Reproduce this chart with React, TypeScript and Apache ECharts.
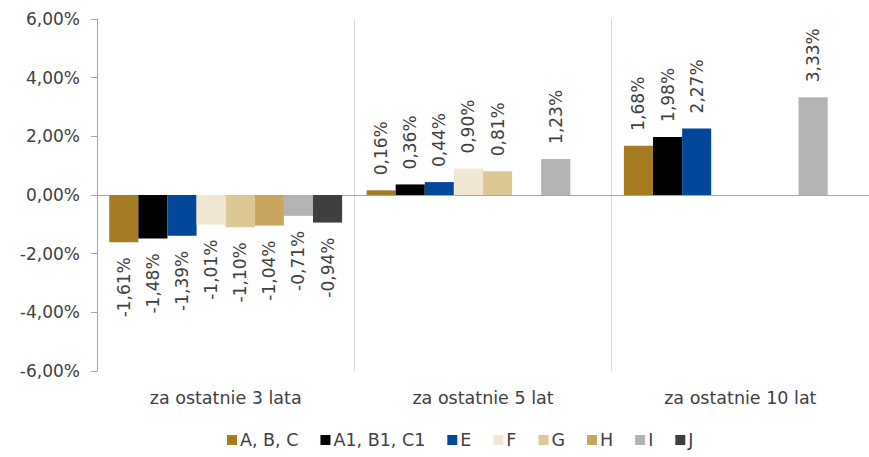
import React, { useEffect, useRef } from "react";
import * as echarts from "echarts";

const categories = ["za ostatnie 3 lata", "za ostatnie 5 lat", "za ostatnie 10 lat"];
const seriesNames = ["A, B, C", "A1, B1, C1", "E", "F", "G", "H", "I", "J"];
const valuesABC = [-1.61, 0.16, 1.68];
const valuesA1 = [-1.48, 0.36, 1.98];
const valuesE = [-1.39, 0.44, 2.27];
const valuesF = [-1.01, 0.9, null];
const valuesG = [-1.1, 0.81, null];
const valuesH = [-1.04, null, null];
const valuesI = [-0.71, 1.23, 3.33];
const valuesJ = [-0.94, null, null];
const yTicks = { min: -6, max: 6, interval: 2 };

const seriesValues = [valuesABC, valuesA1, valuesE, valuesF, valuesG, valuesH, valuesI, valuesJ];
const colors = ["#A67C22", "#000000", "#00479A", "#F1E6D1", "#DCC795", "#C8A45E", "#B3B3B3", "#3F3F3F"];

const FONT = "DejaVu Sans";
const TEXT = "#404040";
const fmt = (v: number) => v.toFixed(2).replace(".", ",") + "%";

export default function App() {
  const ref = useRef<HTMLDivElement>(null);
  useEffect(() => {
    if (!ref.current) return;
    const chart = echarts.init(ref.current, undefined, { renderer: "svg" });
    chart.setOption({
      animation: false,
      textStyle: { fontFamily: FONT },
      grid: { left: 97, right: 0, top: 19, bottom: 86 },
      legend: {
        bottom: 3,
        left: 222,
        icon: "rect",
        itemWidth: 10,
        itemHeight: 10,
        itemGap: 22,
        textStyle: { fontFamily: FONT, fontSize: 17.5, color: TEXT, padding: [0, 0, 0, -2] },
        data: seriesNames,
      },
      xAxis: [
        {
          type: "category",
          data: categories,
          axisLine: { show: true, onZero: true, lineStyle: { color: "#a6a6a6", width: 1 } },
          axisTick: { show: false },
          axisLabel: { show: false },
          splitLine: { show: false },
        },
        {
          type: "category",
          data: categories,
          position: "bottom",
          axisLine: { show: false, onZero: false },
          axisTick: { show: false },
          axisLabel: { show: true, fontFamily: FONT, fontSize: 17.5, color: TEXT, margin: 18 },
          splitLine: { show: true, interval: 0, lineStyle: { color: "#d9d9d9", width: 1 } },
        },
      ],
      yAxis: {
        type: "value",
        min: yTicks.min,
        max: yTicks.max,
        interval: yTicks.interval,
        axisLine: { show: true, lineStyle: { color: "#a6a6a6" } },
        axisTick: { show: true, length: 6, lineStyle: { color: "#a6a6a6" } },
        splitLine: { show: false },
        axisLabel: { fontFamily: FONT, fontSize: 17, color: TEXT, margin: 17, formatter: (v: number) => fmt(v) },
      },
      series: seriesNames.map((name, i) => ({
        name,
        type: "bar",
        xAxisIndex: 0,
        barGap: "0%",
        barCategoryGap: "9.5%",
        itemStyle: { color: colors[i] },
        data: seriesValues[i].map((v) =>
          v === null
            ? "-"
            : {
                value: v,
                label: {
                  show: true,
                  position: v < 0 ? "bottom" : "top",
                  rotate: 90,
                  align: v < 0 ? "right" : "left",
                  verticalAlign: "middle",
                  distance: 15,
                  fontFamily: FONT,
                  fontSize: 17,
                  color: TEXT,
                  formatter: () => fmt(v),
                },
              }
        ),
      })),
    });
    return () => chart.dispose();
  }, []);
  return <div ref={ref} style={{ position: "absolute", left: 0, top: 0, width: 869, height: 457 }} />;
}
